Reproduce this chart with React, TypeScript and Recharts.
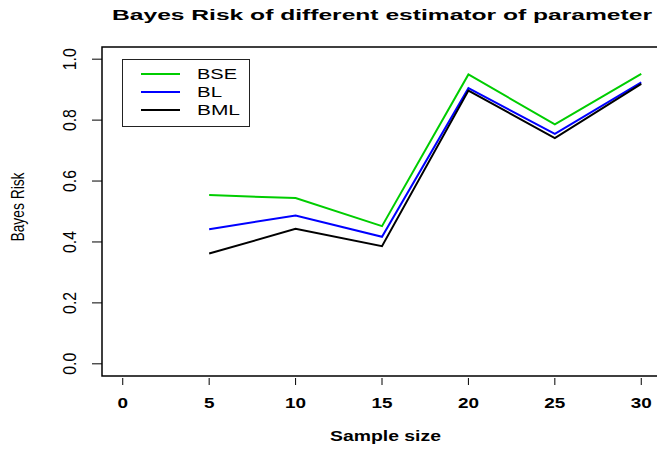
import { LineChart, Line, XAxis, YAxis, ReferenceArea, Label } from 'recharts'

const sampleSizes = [5, 10, 15, 20, 25, 30]
const bseRisk = [0.554, 0.544, 0.452, 0.950, 0.786, 0.952]
const blRisk = [0.442, 0.487, 0.417, 0.905, 0.755, 0.924]
const bmlRisk = [0.362, 0.443, 0.386, 0.897, 0.741, 0.919]
const xTicks = [0, 5, 10, 15, 20, 25, 30]
const yTicks = [0, 0.2, 0.4, 0.6, 0.8, 1.0]
const seriesNames = ['BSE', 'BL', 'BML']
const seriesColors = ['#00CD00', '#0000FF', '#000000']

const data = sampleSizes.map((n, i) => ({ n, BSE: bseRisk[i], BL: blRisk[i], BML: bmlRisk[i] }))

const FONT = '"Liberation Sans", Arial, Helvetica, sans-serif'

const XTick = (props: any) => {
    const { x, y, payload } = props
    const label = String(payload.value)
    return (
        <g>
            <line x1={x} y1={y + 2} x2={x} y2={y + 9} stroke="#000" strokeWidth={1} />
            <text
                x={x}
                y={y + 32}
                textAnchor="middle"
                fontFamily={FONT}
                fontWeight="bold"
                fontSize={15}
                fill="#000"
                textLength={label.length * 10.5}
                lengthAdjust="spacingAndGlyphs"
            >
                {label}
            </text>
        </g>
    )
}

// rotated labels: glyphs look taller than they are long in the reference
const YTick = (props: any) => {
    const { x, y, payload } = props
    const tx = x - 16
    return (
        <text
            x={tx}
            y={y}
            transform={`rotate(-90, ${tx}, ${y})`}
            textAnchor="middle"
            fontFamily={FONT}
            fontSize={19}
            fill="#000"
            textLength={22}
            lengthAdjust="spacingAndGlyphs"
        >
            {Number(payload.value).toFixed(1)}
        </text>
    )
}

const legendWidths: Record<string, number> = { BSE: 40, BL: 25, BML: 43 }

const LegendBox = () => (
    <svg width={128} height={68} style={{ position: 'absolute', left: 122, top: 59, zIndex: 2 }}>
        <rect x={0.5} y={0.5} width={127} height={67} fill="#fff" stroke="#222" strokeWidth={1} />
        {seriesNames.map((name, i) => {
            const cy = 15 + i * 18
            return (
                <g key={name}>
                    <line x1={19} y1={cy} x2={58} y2={cy} stroke={seriesColors[i]} strokeWidth={2} />
                    <text
                        x={75}
                        y={cy + 5}
                        fontFamily={FONT}
                        fontSize={14}
                        fill="#000"
                        textLength={legendWidths[name]}
                        lengthAdjust="spacingAndGlyphs"
                    >
                        {name}
                    </text>
                </g>
            )
        })}
    </svg>
)

const App = () => {
    return (
        <div style={{ position: 'absolute', left: 0, top: 0, width: 657, height: 449, overflow: 'hidden', background: '#fff' }}>
            <svg width={657} height={30} style={{ position: 'absolute', left: 0, top: 0, zIndex: 2 }}>
                <text
                    x={112}
                    y={20}
                    fontFamily={FONT}
                    fontWeight="bold"
                    fontSize={15}
                    fill="#000"
                    textLength={540}
                    lengthAdjust="spacingAndGlyphs"
                >
                    Bayes Risk of different estimator of parameter
                </text>
            </svg>
            <LegendBox />
            <LineChart width={665} height={449} data={data} margin={{ top: 47, right: 3, bottom: 0, left: 0 }}>
                <XAxis
                    dataKey="n"
                    type="number"
                    domain={[-1.2, 31.2]}
                    ticks={xTicks}
                    allowDataOverflow
                    axisLine={false}
                    tickLine={false}
                    tickSize={0}
                    tickMargin={0}
                    tick={<XTick />}
                    height={73}
                    interval={0}
                >
                    <Label
                        content={(p: any) => {
                            const vb = p.viewBox
                            return (
                                <text
                                    x={330}
                                    y={vb.y + 65}
                                    fontFamily={FONT}
                                    fontWeight="bold"
                                    fontSize={15}
                                    fill="#000"
                                    textLength={111}
                                    lengthAdjust="spacingAndGlyphs"
                                >
                                    Sample size
                                </text>
                            )
                        }}
                    />
                </XAxis>
                <YAxis
                    type="number"
                    domain={[-0.04, 1.04]}
                    ticks={yTicks}
                    allowDataOverflow
                    axisLine={false}
                    tickLine={{ stroke: '#000' }}
                    tickSize={10}
                    tickMargin={0}
                    tick={<YTick />}
                    width={102}
                    interval={0}
                >
                    <Label
                        content={(p: any) => {
                            const vb = p.viewBox
                            const cx = 24
                            const cy = 207
                            return (
                                <text
                                    x={cx}
                                    y={cy}
                                    transform={`rotate(-90, ${cx}, ${cy})`}
                                    textAnchor="middle"
                                    fontFamily={FONT}
                                    fontSize={18}
                                    fill="#000"
                                    textLength={69}
                                    lengthAdjust="spacingAndGlyphs"
                                >
                                    Bayes Risk
                                </text>
                            )
                        }}
                    />
                </YAxis>
                <ReferenceArea x1={-1.2} x2={31.2} y1={-0.04} y2={1.04} fill="none" stroke="#000" strokeWidth={1.5} fillOpacity={0} />
                {seriesNames.map((name, i) => (
                    <Line
                        key={name}
                        type="linear"
                        dataKey={name}
                        stroke={seriesColors[i]}
                        strokeWidth={2}
                        dot={false}
                        isAnimationActive={false}
                    />
                ))}
            </LineChart>
        </div>
    )
}

export default App
